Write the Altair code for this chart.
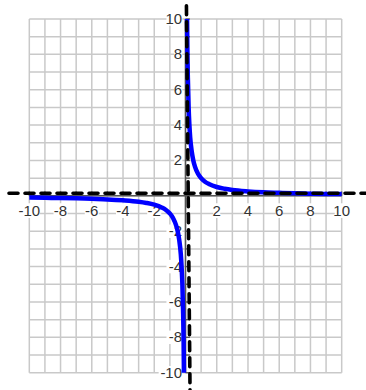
import altair as alt
import pandas as pd

# Hyperbola branches (x, y) pairs
pos_x = [0.1, 0.12, 0.15, 0.2, 0.25, 0.3, 0.4, 0.5, 0.6, 0.8, 1, 1.25, 1.5, 2, 2.5, 3, 4, 5, 6, 7, 8, 9, 10]
pos_y = [10, 8.3, 6.7, 5, 4, 3.3, 2.5, 2, 1.67, 1.25, 1, 0.8, 0.67, 0.5, 0.4, 0.33, 0.25, 0.2, 0.17, 0.14, 0.125, 0.11, 0.1]
neg_x = [-10, -9, -8, -7, -6, -5, -4, -3, -2.5, -2, -1.5, -1.25, -1, -0.8, -0.6, -0.5, -0.4, -0.3, -0.25, -0.2, -0.15, -0.12, -0.1]
neg_y = [-0.1, -0.11, -0.125, -0.14, -0.17, -0.2, -0.25, -0.33, -0.4, -0.5, -0.67, -0.8, -1, -1.25, -1.67, -2, -2.5, -3.3, -4, -5, -6.7, -8.3, -10]

grid_values = list(range(-10, 11))
tick_labels = [-10, -8, -6, -4, -2, 2, 4, 6, 8, 10]

XDOM = [-11.876, 11.556]
YDOM = [-10.978, 11.074]
xs = alt.Scale(domain=XDOM, nice=False, zero=False)
ys = alt.Scale(domain=YDOM, nice=False, zero=False)

curve = pd.DataFrame({
    "x": pos_x + neg_x,
    "y": pos_y + neg_y,
    "branch": ["pos"] * len(pos_x) + ["neg"] * len(neg_x),
    "order": list(range(len(pos_x))) + list(range(len(neg_x))),
})

vgrid = pd.DataFrame({"x": grid_values, "y": -10, "y2": 10})
hgrid = pd.DataFrame({"y": grid_values, "x": -10, "x2": 10})

grid_v = alt.Chart(vgrid).mark_rule(color="#c9c9c9", strokeWidth=1.5).encode(
    x=alt.X("x:Q", scale=xs, axis=None), y=alt.Y("y:Q", scale=ys, axis=None), y2="y2:Q")
grid_h = alt.Chart(hgrid).mark_rule(color="#c9c9c9", strokeWidth=1.5).encode(
    y=alt.Y("y:Q", scale=ys, axis=None), x=alt.X("x:Q", scale=xs, axis=None), x2="x2:Q")

axis_df = pd.DataFrame({"x": [-10, 0], "x2": [10, 0], "y": [0, -10], "y2": [0, 10]})
axes = alt.Chart(axis_df).mark_rule(color="#555555", strokeWidth=1.5).encode(
    x=alt.X("x:Q", scale=xs, axis=None), x2="x2:Q",
    y=alt.Y("y:Q", scale=ys, axis=None), y2="y2:Q")

# small tick marks along each axis
xt = pd.DataFrame({"x": grid_values, "y": 0, "y2": 0.25})
yt = pd.DataFrame({"y": grid_values, "x": 0, "x2": 0.28})
xticks = alt.Chart(xt).mark_rule(color="#555555", strokeWidth=1.3).encode(
    x=alt.X("x:Q", scale=xs, axis=None), y=alt.Y("y:Q", scale=ys, axis=None), y2="y2:Q")
yticks = alt.Chart(yt).mark_rule(color="#555555", strokeWidth=1.3).encode(
    y=alt.Y("y:Q", scale=ys, axis=None), x=alt.X("x:Q", scale=xs, axis=None), x2="x2:Q")

# label backgrounds and labels
xl = pd.DataFrame({"v": tick_labels, "t": [str(v) for v in tick_labels]})
xl["w"] = xl["t"].str.len() * 0.45
xl["x0"] = xl["v"] - xl["w"] / 2
xl["x1"] = xl["v"] + xl["w"] / 2
yl = pd.DataFrame({"v": tick_labels, "t": [str(v) for v in tick_labels]})
yl["w"] = yl["t"].str.len() * 0.5
yl["x0"] = -0.22 - yl["w"]

xbg = alt.Chart(xl).mark_rect(color="white").encode(
    x=alt.X("x0:Q", scale=xs, axis=None), x2="x1:Q",
    y=alt.Y("a:Q", scale=ys, axis=None), y2="b:Q").transform_calculate(a="-1.25", b="-0.42")
ybg = alt.Chart(yl).mark_rect(color="white").encode(
    x=alt.X("x0:Q", scale=xs, axis=None), x2="x1:Q",
    y=alt.Y("a:Q", scale=ys, axis=None), y2="b:Q").transform_calculate(
    x1="-0.2", a="datum.v - 0.38", b="datum.v + 0.38")

font = "Liberation Sans Narrow, Liberation Sans, Arial"
xtext = alt.Chart(xl).mark_text(font=font, fontSize=15, color="#333333", baseline="middle", align="center").encode(
    x=alt.X("v:Q", scale=xs, axis=None), y=alt.Y("yy:Q", scale=ys, axis=None), text="t:N"
).transform_calculate(yy="-0.83")
ytext = alt.Chart(yl).mark_text(font=font, fontSize=15, color="#333333", baseline="middle", align="right").encode(
    y=alt.Y("v:Q", scale=ys, axis=None), x=alt.X("xx:Q", scale=xs, axis=None), text="t:N"
).transform_calculate(xx="-0.22")

line = alt.Chart(curve).mark_line(color="#0000ff", strokeWidth=4.5, interpolate="monotone").encode(
    x=alt.X("x:Q", scale=xs, axis=None), y=alt.Y("y:Q", scale=ys, axis=None),
    detail="branch:N", order="order:Q")

# hand-drawn dashed asymptotes (the vertical one leans slightly)
asym = pd.DataFrame({"x": [0.06, -11.3], "x2": [0.29, 11.55], "y": [10.75, 0.15], "y2": [-10.98, 0.15]})
asymptotes = alt.Chart(asym).mark_rule(color="black", strokeWidth=3.6, strokeDash=[9, 7], strokeCap="round").encode(
    x=alt.X("x:Q", scale=xs, axis=None), x2="x2:Q",
    y=alt.Y("y:Q", scale=ys, axis=None), y2="y2:Q")

chart = alt.layer(grid_v, grid_h, axes, xticks, yticks, xbg, ybg, xtext, ytext, line, asymptotes).properties(
    width=366, height=390, autosize=alt.AutoSizeParams(type="none"), padding=0
).configure_view(stroke=None)

chart.save("out.html", embed_options={"renderer": "svg", "actions": False})
